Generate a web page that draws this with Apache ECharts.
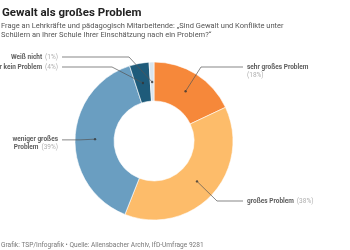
<!DOCTYPE html>
<html>
<head>
<meta charset="utf-8">
<script src="https://cdn.jsdelivr.net/npm/echarts@6/dist/echarts.min.js"></script>
<style>
  html, body { margin: 0; padding: 0; background: #fff; }
  #chart { width: 350px; height: 250px; }
</style>
</head>
<body>
<div id="chart"></div>
<script>
const categories = ['sehr großes Problem', 'großes Problem', 'weniger großes Problem', 'gar kein Problem', 'Weiß nicht'];
const shares = [18, 38, 39, 4, 1];
// Zeilenumbruch der Beschriftung
const labelNames = ['sehr großes Problem', 'großes Problem', 'weniger großes\nProblem', 'gar kein Problem', 'Weiß nicht'];
const labelBreak = ['\n', ' ', ' ', ' ', ' '];

const colors = ['#f6883a', '#fdbc6a', '#6a9ec1', '#1e5b7a', '#d9e4ed'];
// x, y (Mitte erste Zeile), Ausrichtung, Länge des waagrechten Strichs
const labelPos = [
  [243, 67, 'left', 42],
  [243, 201, 'left', 26],
  [62, 139, 'right', 18],
  [62, 67, 'right', 50],
  [62, 57, 'right', 67]
];

const font = 'Roboto, "Liberation Sans", sans-serif';
const center = [154, 141];

// Punkt in der Mitte jedes Segments: [Radius, Winkel in %]
let acc = 0;
const anchorData = shares.map((s, i) => {
  const mid = acc + s / 2;
  acc += s;
  const twoLines = labelNames[i].indexOf('\n') >= 0 || labelBreak[i] === '\n';
  const left = labelPos[i][2] === 'left';
  return {
    name: categories[i],
    value: [1, mid],
    label: { padding: [twoLines ? 8.5 : 0, left ? 0 : 4, 0, left ? 4 : 0] },
    labelLine: { length2: labelPos[i][3] }
  };
});

const chart = echarts.init(document.getElementById('chart'));

chart.setOption({
  animation: false,
  title: [
    {
      text: 'Gewalt als großes Problem',
      left: -3,
      top: 2,
      textStyle: { fontFamily: font, fontSize: 11.5, fontWeight: 'bold', color: '#222' }
    },
    {
      text: 'Frage an Lehrkräfte und pädagogisch Mitarbeitende: „Sind Gewalt und Konflikte unter\nSchülern an Ihrer Schule Ihrer Einschätzung nach ein Problem?“',
      left: -4,
      top: 17,
      textStyle: { fontFamily: font, fontSize: 7.5, fontWeight: 'normal', color: '#555', lineHeight: 9 }
    },
    {
      text: 'Grafik: TSP/Infografik • Quelle: Allensbacher Archiv, IfD-Umfrage 9281',
      left: -4,
      top: 237,
      textStyle: { fontFamily: font, fontSize: 6.6, fontWeight: 'normal', color: '#777' }
    }
  ],
  polar: { center: center, radius: [0, 59] },
  angleAxis: { type: 'value', min: 0, max: 100, startAngle: 90, clockwise: true, show: false },
  radiusAxis: { type: 'value', min: 0, max: 1, show: false },
  series: [
    {
      type: 'pie',
      center: center,
      radius: [40, 79],
      startAngle: 90,
      clockwise: true,
      silent: true,
      label: { show: false },
      labelLine: { show: false },
      itemStyle: { borderColor: '#fff', borderWidth: 0.6 },
      data: categories.map((name, i) => ({ name: name, value: shares[i], itemStyle: { color: colors[i] } }))
    },
    {
      type: 'scatter',
      coordinateSystem: 'polar',
      z: 5,
      silent: true,
      symbolSize: 2.4,
      itemStyle: { color: '#333' },
      label: {
        show: true,
        position: 'right',
        fontFamily: font,
        lineHeight: 8.5,
        formatter: p => '{b|' + labelNames[p.dataIndex].split('\n').join('}\n{b|') + '}' +
          labelBreak[p.dataIndex] + '{p|(' + shares[p.dataIndex] + '%)}',
        rich: {
          b: { fontFamily: font, fontSize: 6.5, fontWeight: 'bold', color: '#333', lineHeight: 8.5 },
          p: { fontFamily: font, fontSize: 6.5, color: '#999', lineHeight: 8.5 }
        }
      },
      labelLine: {
        show: true,
        length2: 20,
        minTurnAngle: 30,
        lineStyle: { color: '#555', width: 0.7 }
      },
      labelLayout: p => {
        const pos = labelPos[p.dataIndex];
        return { x: pos[0], y: pos[1], align: pos[2], verticalAlign: 'middle' };
      },
      data: anchorData
    }
  ]
});
</script>
</body>
</html>
